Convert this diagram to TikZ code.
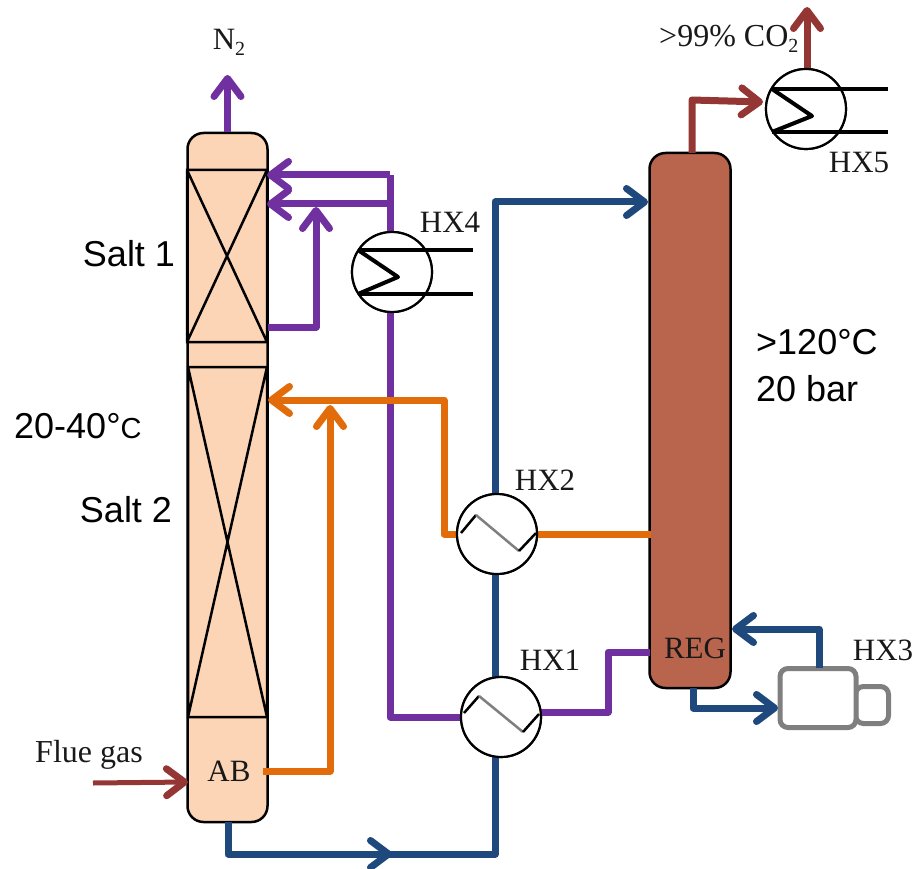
\documentclass[tikz,border=0pt]{standalone}
\usepackage{fontspec}
\setmainfont{Liberation Serif}
\newfontfamily\arialf{Liberation Sans}
\usetikzlibrary{arrows.meta}
\definecolor{cpurple}{HTML}{7030A0}
\definecolor{corange}{HTML}{E36C0A}
\definecolor{cblue}{HTML}{1F497D}
\definecolor{cred}{HTML}{943634}
\definecolor{cgray}{HTML}{7F7F7F}
\definecolor{absfill}{HTML}{FBD5B5}
\definecolor{regfill}{HTML}{B9654D}
\newcommand{\lowtwo}{{\fontsize{20}{20}\selectfont\raisebox{-6pt}{2}}}
\tikzset{
  x=1pt,y=-1pt,
  column/.style={draw=black,line width=2.5pt,rounded corners=16pt,inner sep=0pt,minimum width=#1},
  hxcirc/.style={circle,draw=black,fill=white,line width=2.2pt,minimum size=80pt,inner sep=0pt},
  pipe/.style={line width=7pt,line join=round},
  tipped/.style={pipe,-{Straight Barb[length=18pt,width=27pt,line width=7pt,round]}},
  tube/.style={line width=4pt,black},
  lbl/.style={font=\fontsize{31}{34}\selectfont,text=black!90,inner sep=0pt},
  sans/.style={font=\arialf\fontsize{36}{47}\selectfont,text=black,inner sep=0pt},
  packing/.style={line width=2.5pt,black},
  pump/.style={draw=cgray,fill=white,line width=5pt,rounded corners=8pt,inner sep=0pt}
}
\begin{document}
\begin{tikzpicture}
\useasboundingbox (0,0) rectangle (913,869);
% columns
\node[column=80pt,fill=absfill,minimum height=689pt] (abs) at (227.5,477.5) {};
\node[column=81pt,fill=regfill,minimum height=535pt] (reg) at (690,420.5) {};
% packings
\draw[packing] (187,170) rectangle (267,342) (187,170) -- (267,342) (267,170) -- (187,342);
\draw[packing] (188,367) rectangle (267,717) (188,367) -- (267,717) (267,367) -- (188,717);
% heat exchangers
\node[hxcirc] (hx1) at (501,717) {};
\node[hxcirc] (hx2) at (497,534) {};
\node[hxcirc] (hx4) at (392,272) {};
\node[hxcirc] (hx5) at (806,109) {};
% pump
\node[pump,minimum width=33pt,minimum height=37pt] (pumpb) at (872,705) {};
\node[pump,minimum width=76pt,minimum height=59pt] (pumpa) at (818,698) {};
% named free ends
\coordinate (purA) at (267,175);
\coordinate (purB) at (267,204);
\coordinate (purC) at (268,327);
\coordinate (purD) at (316,207);
\coordinate (purJ) at (390,175);
\coordinate (orgA) at (263,771);
\coordinate (orgB) at (330,405);
\coordinate (orgC) at (268,400);
\coordinate (n2end) at (227.5,75);
\coordinate (co2end) at (807,7);
\coordinate (flue) at (93,783);
\coordinate (flueE) at (188,782);
\coordinate (bluA) at (392,854);
\coordinate (bluB) at (648,202);
\coordinate (regP) at (650,652);
\coordinate (regO) at (651,534);
\coordinate (regI) at (732,629);
\coordinate (pumpI) at (778,708);
% purple
\draw[tipped,cpurple] (abs.north) -- (n2end);
\draw[pipe,cpurple] (purJ |- hx4.north) -- (purJ);
\draw[tipped,cpurple] (purJ) -- (purA);
\draw[tipped,cpurple] (purJ |- purB) -- (purB);
\draw[tipped,cpurple] (purC) -- (purC -| purD) -- (purD);
\draw[pipe,cpurple] (purJ |- hx4.south) -- (purJ |- hx1.west) -- (hx1.west);
\draw[pipe,cpurple] (541,712) -- (608,712) -- (608,652) -- (regP);
% orange
\draw[tipped,corange] (orgA) -- (orgA -| orgB) -- (orgB);
\draw[tipped,corange] (hx2.west) -- (444,534) -- (444,400) -- (orgC);
\draw[pipe,corange] (hx2.east) -- (regO);
% blue
\draw[pipe,cblue] (228,822) -- (228,854) -- (495,854) -- (495,757);
\draw[tipped,cblue] (228,854) -- (bluA);
\draw[pipe,cblue] (495,677) -- (495,574);
\draw[tipped,cblue] (495,494) -- (495,202) -- (bluB);
\draw[tipped,cblue] (693,688) -- (693,708) -- (pumpI);
\draw[tipped,cblue] (819,668) -- (819,629) -- (regI);
% red
\draw[tipped,cred] (692,153) -- (692,100) -- (763,102);
\draw[tipped,cred] (807,69) -- (co2end);
\draw[tipped,cred,line width=5pt] (flue) -- (flueE);
% redraw the circles above the pipes
\node[hxcirc] at (hx1) {};
\node[hxcirc] at (hx2) {};
\node[hxcirc] at (hx4) {};
\node[hxcirc] at (hx5) {};
% exchanger internals
\draw[tube] (358,250) -- (473,250) (358,294) -- (473,294);
\draw[tube,line join=round] (358,250) -- (398,277) -- (358,294);
\draw[tube] (772,89) -- (888,89) (772,132) -- (888,132);
\draw[tube,line join=round] (772,89) -- (812,116) -- (772,132);
\draw[line width=2.5pt,black] (461,533) -- (476,515);
\draw[line width=2.5pt,cgray] (476,515) -- (519,551);
\draw[line width=2.5pt,black] (519,551) -- (536,533);
\draw[line width=2.5pt,black] (464,713) -- (479,696);
\draw[line width=2.5pt,cgray] (479,696) -- (523,732);
\draw[line width=2.5pt,black] (523,732) -- (539,714);
% labels
\node[lbl] (tN) at (229,42) {N\lowtwo};
\node[lbl,anchor=west,font=\fontsize{32}{34}\selectfont] (tC) at (659,39) {>99\% CO\lowtwo};
\node[lbl] (t5) at (859,163) {HX5};
\node[lbl] (t4) at (450,222) {HX4};
\node[lbl] (t2) at (545,480) {HX2};
\node[lbl] (t1) at (550,660) {HX1};
\node[lbl] (t3) at (883,650) {HX3};
\node[lbl] (tR) at (695,648) {REG};
\node[lbl] (tA) at (229,771) {AB};
\node[lbl,font=\fontsize{32}{34}\selectfont] (tF) at (89,755) {Flue gas};
\node[sans] (s1) at (129,254) {Salt 1};
\node[sans] (s2) at (126,510) {Salt 2};
\node[sans,anchor=west] (s3) at (14,426) {20-40°{\fontsize{29}{30}\selectfont C}};
\node[sans,anchor=north west,align=left] (s4) at (756,329) {>120°C\\20 bar};
\end{tikzpicture}
\end{document}
